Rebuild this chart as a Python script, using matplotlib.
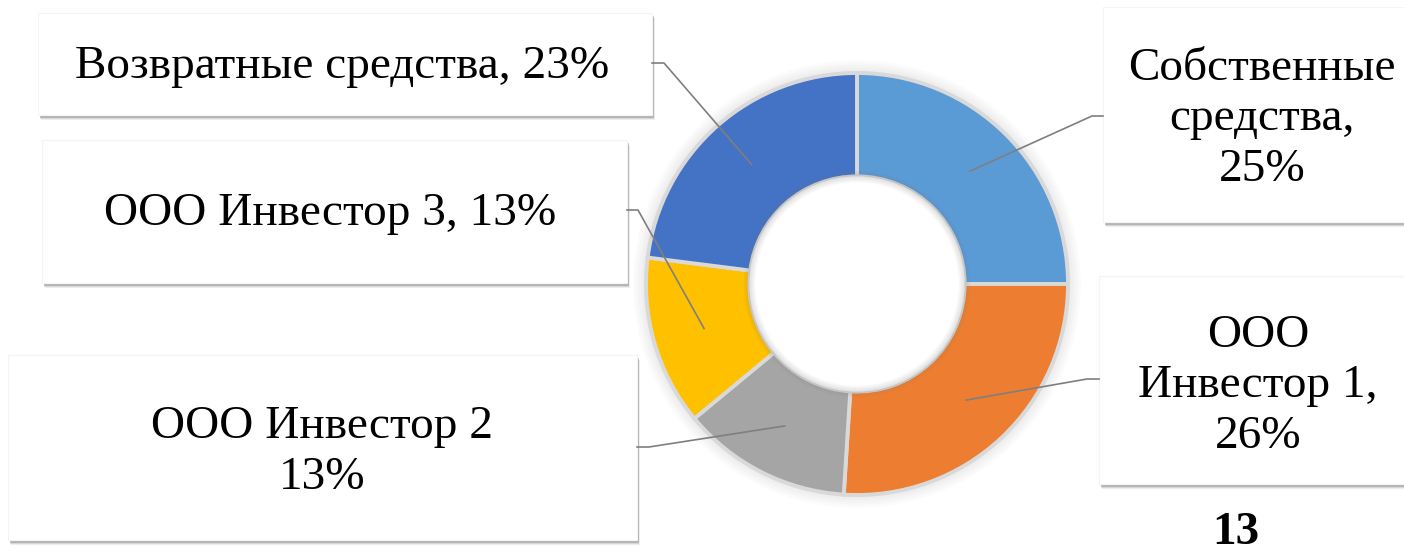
import numpy as np
import matplotlib.pyplot as plt
from matplotlib.patches import Rectangle, Circle

plt.rcParams['font.family'] = ['Liberation Serif', 'DejaVu Serif']

# Данные диаграммы (по часовой стрелке от 12 часов)
categories = ['Собственные средства', 'ООО Инвестор 1', 'ООО Инвестор 2',
              'ООО Инвестор 3', 'Возвратные средства']
shares = [25, 26, 13, 13, 23]
label_texts = ['Собственные\nсредства,\n25%',
               'ООО\nИнвестор 1,\n26%',
               'ООО Инвестор 2\n13%',
               'ООО Инвестор 3, 13%',
               'Возвратные средства, 23%']
colors = ['#5B9BD5', '#ED7D31', '#A5A5A5', '#FFC000', '#4472C4']
page_number = '13'

W, H = 1404, 552
fig = plt.figure(figsize=(W / 100, H / 100), dpi=100)

# Оверлей в пиксельных координатах для подписей
ov = fig.add_axes([0, 0, 1, 1], zorder=2)
ov.set_xlim(0, W)
ov.set_ylim(H, 0)
ov.axis('off')
ov.patch.set_alpha(0)

# Кольцевая диаграмма
cx, cy, R = 857, 284, 211
pax = fig.add_axes([(cx - R) / W, (H - cy - R) / H, 2 * R / W, 2 * R / H], zorder=1)
for k in range(6):
    pax.add_patch(Circle((0, 0), 1.0 + 0.012 * k, color='#808080', alpha=0.03,
                         lw=0, zorder=0, clip_on=False))
wedges, _ = pax.pie(shares, colors=colors, startangle=90, counterclock=False,
                    radius=1.0, wedgeprops=dict(width=0.49, edgecolor='#d9d9d9', linewidth=2.8))
# мягкая тень внутри отверстия
pax.add_patch(Circle((0, 0), 0.51, color='white', lw=0, zorder=4))
for k in range(10):
    pax.add_patch(Circle((0, 0), 0.51, fill=False, edgecolor='#808080',
                         lw=0.9 * (k + 1), alpha=0.018, zorder=5))
pax.set_xlim(-1, 1)
pax.set_ylim(-1, 1)
pax.set_aspect('equal')
pax.axis('off')

# Рамки подписей: (x0, y0, x1, y1), точка выхода выноски
boxes = [(1103, 7, 1412, 222),
         (1099, 276, 1412, 484),
         (8, 355, 637, 540),
         (42, 140, 627, 283),
         (38, 13, 652, 115)]
anchors = [(1103, 116, -11), (1099, 379, -12), (637, 447, 12), (627, 210, 11), (652, 63, 12)]
text_pos = [(1262, 119), (1258, 386), (322, 452), (330, 214), (342, 67)]

for (x0, y0, x1, y1) in boxes:
    for k, a in enumerate([0.10, 0.16, 0.28]):
        d = 5 - k
        ov.add_patch(Rectangle((x0 + d * 0.6, y0 + d), x1 - x0, y1 - y0, color='#606060',
                               alpha=a, lw=0, zorder=1))
    ov.add_patch(Rectangle((x0, y0), x1 - x0, y1 - y0, facecolor='white',
                           edgecolor='#f4f4f4', lw=0.8, zorder=2))

to_ov = pax.transData + ov.transData.inverted()
for w, (ax_, ay_, dx), txt, (tx, ty) in zip(wedges, anchors, label_texts, text_pos):
    mid = np.deg2rad((w.theta1 + w.theta2) / 2)
    px, py = to_ov.transform((0.755 * np.cos(mid), 0.755 * np.sin(mid)))
    ov.plot([ax_, ax_ + dx, px], [ay_, ay_, py], color='#7f7f7f', lw=1.2, zorder=4)
    ov.text(tx, ty, txt, ha='center', va='center', fontsize=34, color='black',
            family='Liberation Serif', linespacing=1.25, zorder=5)

ov.text(1236, 533, page_number, ha='center', va='center', fontsize=34,
        fontweight='bold', family='Liberation Serif', color='black', zorder=5)

fig.savefig('out.png', dpi=100, facecolor='white')
